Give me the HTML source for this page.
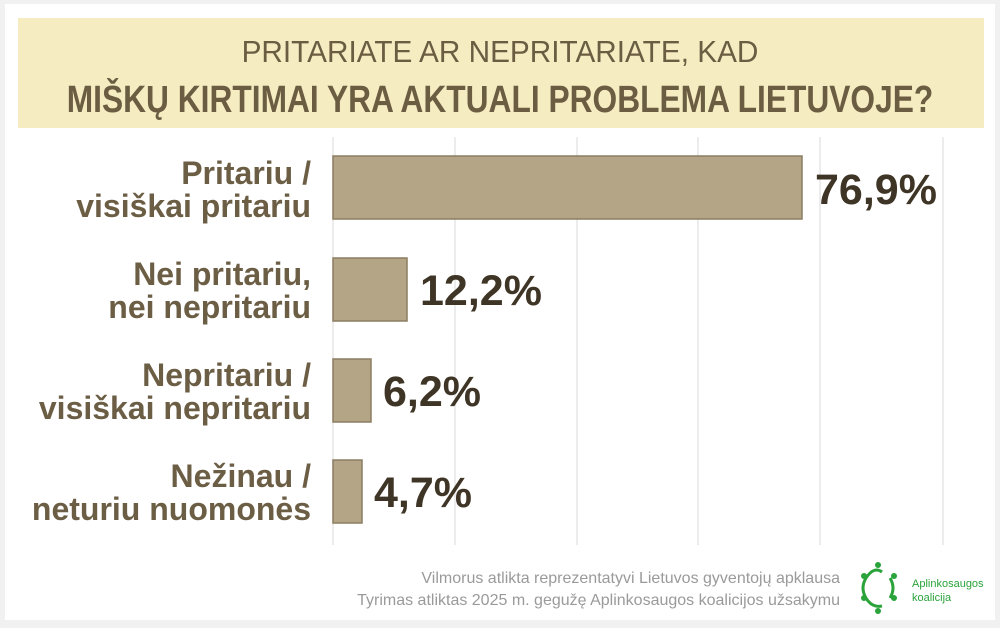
<!DOCTYPE html>
<html><head><meta charset="utf-8"><style>
html,body{margin:0;padding:0;background:#f1f1f1;}
svg{display:block;font-family:"Liberation Sans",sans-serif;}
</style></head><body>
<svg width="1000" height="628" viewBox="0 0 1000 628" xmlns="http://www.w3.org/2000/svg">
<rect x="0" y="0" width="1000" height="628" fill="#f1f1f1"/>
<rect x="5" y="4" width="990" height="616" fill="#ffffff"/>
<rect x="18" y="18" width="966" height="110" fill="#f5ecc2"/>
<g fill="#6a5d42" text-anchor="middle">
<text x="500" y="62" font-size="31" transform="translate(500 0) scale(0.96 1) translate(-500 0)">PRITARIATE AR NEPRITARIATE, KAD</text>
<text x="500" y="112" font-size="38" font-weight="bold" transform="translate(500 0) scale(0.835 1) translate(-500 0)">MIŠKŲ KIRTIMAI YRA AKTUALI PROBLEMA LIETUVOJE?</text>
</g>
<g stroke="#e6e6e6" stroke-width="1.5">
<line x1="333" y1="137" x2="333" y2="545"/>
<line x1="455" y1="137" x2="455" y2="545"/>
<line x1="577" y1="137" x2="577" y2="545"/>
<line x1="698" y1="137" x2="698" y2="545"/>
<line x1="820" y1="137" x2="820" y2="545"/>
<line x1="943" y1="137" x2="943" y2="545"/>
</g>
<g fill="#b4a586" stroke="#8c7d62" stroke-width="1.5">
<rect x="333" y="156" width="469" height="63"/>
<rect x="333" y="258" width="74" height="63"/>
<rect x="333" y="359" width="38" height="63"/>
<rect x="333" y="460" width="29" height="63"/>
</g>
<g fill="#6b5e45" font-size="32" font-weight="bold" text-anchor="end">
<text x="311" y="184">Pritariu /</text><text x="311" y="217">visiškai pritariu</text>
<text x="311" y="285">Nei pritariu,</text><text x="311" y="318">nei nepritariu</text>
<text x="311" y="386">Nepritariu /</text><text x="311" y="419">visiškai nepritariu</text>
<text x="311" y="487">Nežinau /</text><text x="311" y="520">neturiu nuomonės</text>
</g>
<g fill="#3f3526" font-size="43" font-weight="bold">
<text x="815" y="204">76,9%</text>
<text x="420" y="305">12,2%</text>
<text x="383" y="406">6,2%</text>
<text x="374" y="507">4,7%</text>
</g>
<g fill="#9a9a9a" font-size="16" text-anchor="end">
<text x="840" y="583">Vilmorus atlikta reprezentatyvi Lietuvos gyventojų apklausa</text>
<text x="840" y="605">Tyrimas atliktas 2025 m. gegužę  Aplinkosaugos koalicijos užsakymu</text>
</g>
<g fill="#2aa33a" stroke="#2aa33a">
<path d="M866 578 Q874 566 882 572 M890 578 Q896 588 890 598 M866 598 Q872 608 882 606 M866 598 Q860 588 866 578" fill="none" stroke-width="3"/>
<circle cx="878" cy="565" r="3" stroke="none"/>
<circle cx="864" cy="576" r="3" stroke="none"/>
<circle cx="894" cy="576" r="3" stroke="none"/>
<circle cx="864" cy="598" r="3" stroke="none"/>
<circle cx="894" cy="598" r="3" stroke="none"/>
<circle cx="878" cy="611" r="3" stroke="none"/>
<text x="912" y="587" font-size="11" stroke="none">Aplinkosaugos</text>
<text x="912" y="601" font-size="11" stroke="none">koalicija</text>
</g>
</svg>
</body></html>
